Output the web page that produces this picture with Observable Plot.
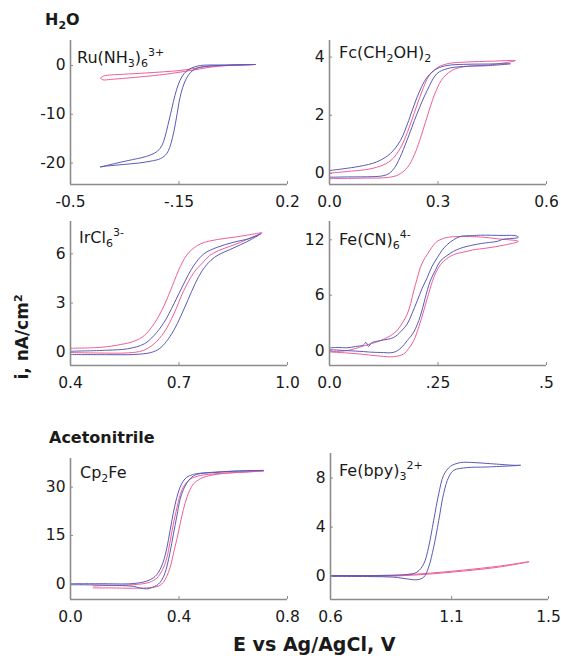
<!DOCTYPE html>
<html><head><meta charset="utf-8">
<script src="https://cdn.jsdelivr.net/npm/d3@7"></script>
<script src="https://cdn.jsdelivr.net/npm/@observablehq/plot@0.6"></script>
<style>
body{margin:0;background:#fff;}
#wrap{position:relative;width:561px;height:656px;overflow:hidden;font-family:"DejaVu Sans",sans-serif;color:#1a1a1a;background:#fff;}
.lbl{position:absolute;font-size:16px;line-height:16px;white-space:nowrap;}
.b{font-weight:bold;}
.sub{font-size:11px;vertical-align:-4px;}
.sup{font-size:11px;vertical-align:7px;}
.pl{position:absolute;}
</style></head>
<body><div id="wrap"></div>
<script>
// ---------- data: [E (V vs Ag/AgCl), i (nA/cm2)] ----------
// Ru(NH3)6 3+
const ruBlueFwd = [[-0.403,-20.8],[-0.35,-20.0],[-0.30,-19.3],[-0.27,-18.9],[-0.24,-18.3],[-0.22,-17.6],[-0.205,-16.4],[-0.195,-14.6],[-0.186,-12.3],[-0.177,-9.9],[-0.168,-7.4],[-0.158,-5.0],[-0.147,-3.1],[-0.134,-1.7],[-0.118,-0.8],[-0.10,-0.3],[-0.08,0.0],[-0.04,0.1],[0.0,0.1],[0.05,0.15],[0.097,0.2]];
const ruBlueRev = [[0.097,0.2],[0.05,0.1],[0.0,0.0],[-0.05,-0.1],[-0.085,-0.4],[-0.105,-1.0],[-0.12,-2.0],[-0.133,-3.6],[-0.143,-5.6],[-0.150,-7.6],[-0.156,-9.9],[-0.163,-12.4],[-0.171,-14.8],[-0.18,-16.8],[-0.19,-18.1],[-0.21,-19.1],[-0.24,-19.6],[-0.28,-20.0],[-0.33,-20.3],[-0.38,-20.6],[-0.403,-20.8]];
const ruPinkFwd = [[-0.403,-2.6],[-0.395,-2.2],[-0.38,-2.0],[-0.33,-1.8],[-0.26,-1.55],[-0.20,-1.3],[-0.15,-1.05],[-0.11,-0.7],[-0.07,-0.3],[-0.04,-0.1],[0.0,0.05],[0.05,0.12],[0.097,0.2]];
const ruPinkRev = [[0.097,0.2],[0.04,0.08],[0.0,-0.05],[-0.05,-0.35],[-0.10,-0.9],[-0.15,-1.4],[-0.20,-1.85],[-0.26,-2.25],[-0.32,-2.6],[-0.37,-2.85],[-0.395,-2.95],[-0.403,-2.6]];
// Fc(CH2OH)2
const fcBlueFwd = [[0.0,0.10],[0.05,0.18],[0.094,0.27],[0.12,0.35],[0.14,0.45],[0.168,0.68],[0.196,1.13],[0.219,1.82],[0.242,2.62],[0.27,3.31],[0.297,3.60],[0.325,3.71],[0.371,3.75],[0.43,3.76],[0.50,3.77]];
const fcBlueRev = [[0.50,3.73],[0.43,3.70],[0.371,3.68],[0.325,3.60],[0.297,3.43],[0.27,2.85],[0.242,2.05],[0.214,1.13],[0.195,0.55],[0.18,0.2],[0.165,0.0],[0.148,-0.08],[0.12,-0.11],[0.05,-0.12],[0.0,-0.13]];
const fcPinkFwd = [[0.0,0.01],[0.06,0.08],[0.10,0.13],[0.14,0.25],[0.17,0.45],[0.195,0.85],[0.215,1.4],[0.235,2.1],[0.255,2.8],[0.275,3.35],[0.30,3.65],[0.33,3.78],[0.38,3.83],[0.45,3.86],[0.514,3.88]];
const fcPinkRev = [[0.514,3.86],[0.45,3.74],[0.38,3.68],[0.345,3.58],[0.315,3.3],[0.295,2.85],[0.275,2.15],[0.255,1.35],[0.235,0.65],[0.215,0.2],[0.19,-0.05],[0.16,-0.14],[0.10,-0.16],[0.05,-0.17],[0.0,-0.18]];
// IrCl6 3-
const irBlueFwd = [[0.40,0.06],[0.50,0.12],[0.558,0.21],[0.604,0.51],[0.631,1.02],[0.659,1.83],[0.686,2.95],[0.713,4.17],[0.741,5.29],[0.769,6.0],[0.806,6.40],[0.852,6.71],[0.898,6.95],[0.926,7.22]];
const irBlueRev = [[0.926,7.22],[0.90,6.88],[0.87,6.55],[0.84,6.25],[0.81,5.95],[0.788,5.6],[0.765,5.0],[0.745,4.2],[0.725,3.2],[0.705,2.2],[0.686,1.35],[0.665,0.65],[0.645,0.2],[0.622,-0.02],[0.576,-0.14],[0.50,-0.15],[0.40,-0.14]];
const irPinkFwd = [[0.40,0.24],[0.484,0.30],[0.539,0.47],[0.576,0.67],[0.604,1.02],[0.631,1.73],[0.659,2.85],[0.682,4.07],[0.705,5.29],[0.728,6.10],[0.76,6.61],[0.806,6.87],[0.852,7.01],[0.889,7.14],[0.93,7.28]];
const irPinkRev = [[0.93,7.28],[0.90,7.0],[0.87,6.7],[0.84,6.45],[0.81,6.2],[0.785,5.9],[0.765,5.45],[0.741,4.85],[0.713,3.75],[0.686,2.34],[0.659,1.22],[0.631,0.51],[0.60,0.1],[0.56,-0.04],[0.48,-0.05],[0.40,-0.02]];
// Fe(CN)6 4-
const fcnBlueFwd = [[0.002,0.3],[0.02,0.35],[0.04,0.3],[0.06,0.45],[0.078,0.6],[0.084,0.9],[0.09,0.45],[0.097,0.85],[0.117,1.08],[0.148,1.43],[0.165,2.1],[0.179,2.87],[0.19,4.0],[0.202,5.38],[0.213,6.7],[0.225,7.89],[0.236,9.1],[0.248,10.04],[0.26,10.9],[0.271,11.47],[0.286,12.0],[0.302,12.37],[0.33,12.45],[0.348,12.5],[0.40,12.47],[0.425,12.47],[0.432,12.4],[0.435,12.26]];
const fcnBlueRev = [[0.435,12.2],[0.40,12.05],[0.386,11.83],[0.35,11.6],[0.317,11.29],[0.30,11.05],[0.286,10.75],[0.271,10.3],[0.255,9.68],[0.245,8.8],[0.232,7.53],[0.22,5.6],[0.209,3.7],[0.194,2.0],[0.179,1.08],[0.165,0.3],[0.148,-0.18],[0.117,-0.2],[0.09,-0.15],[0.078,-0.1],[0.04,0.0],[0.002,0.1]];
const fcnPinkFwd = [[0.002,-0.1],[0.04,0.0],[0.078,0.5],[0.117,1.08],[0.14,1.6],[0.155,2.15],[0.168,3.0],[0.179,3.94],[0.187,5.1],[0.194,6.45],[0.202,7.8],[0.209,8.96],[0.217,9.8],[0.225,10.39],[0.236,11.2],[0.248,11.83],[0.26,12.1],[0.271,12.26],[0.30,12.35],[0.35,12.3],[0.386,12.11],[0.435,11.83]];
const fcnPinkRev = [[0.435,11.65],[0.40,11.4],[0.363,11.11],[0.33,10.9],[0.317,10.75],[0.286,10.39],[0.263,9.68],[0.25,8.9],[0.24,7.89],[0.228,6.1],[0.217,4.3],[0.206,2.6],[0.194,1.08],[0.182,0.2],[0.171,-0.36],[0.148,-0.65],[0.117,-0.6],[0.078,-0.4],[0.04,-0.25],[0.002,-0.15]];
// Cp2Fe (acetonitrile)
const cpBlueFwd = [[0.0,0.0],[0.108,0.0],[0.231,0.05],[0.281,0.8],[0.305,1.8],[0.318,2.8],[0.33,4.4],[0.342,6.8],[0.355,11.0],[0.367,16.5],[0.379,22.0],[0.392,26.8],[0.404,30.0],[0.416,31.9],[0.429,33.1],[0.45,33.9],[0.466,34.2],[0.54,34.7],[0.601,34.9],[0.712,35.2]];
const cpBlueRev = [[0.712,35.2],[0.601,35.0],[0.54,34.6],[0.478,34.2],[0.453,33.5],[0.441,32.6],[0.429,31.3],[0.416,29.2],[0.404,26.2],[0.392,21.0],[0.379,15.2],[0.367,9.8],[0.355,5.2],[0.342,2.0],[0.33,0.4],[0.318,-0.5],[0.30,-1.2],[0.281,-1.6],[0.255,-1.3],[0.231,-0.8],[0.15,-0.5],[0.108,-0.4],[0.0,-0.3]];
const cpPinkFwd = [[0.084,-0.7],[0.15,-0.5],[0.231,-0.3],[0.29,0.4],[0.318,1.7],[0.33,3.0],[0.342,4.8],[0.355,8.0],[0.367,13.0],[0.379,18.5],[0.392,23.5],[0.404,27.5],[0.416,30.0],[0.44,32.4],[0.478,33.6],[0.54,34.2],[0.65,34.7],[0.712,35.0]];
const cpPinkRev = [[0.712,35.0],[0.60,34.5],[0.54,34.0],[0.50,33.3],[0.478,32.6],[0.453,31.0],[0.441,29.3],[0.429,26.8],[0.416,23.0],[0.404,18.5],[0.392,13.8],[0.379,9.2],[0.367,5.0],[0.355,2.3],[0.342,0.4],[0.33,-0.5],[0.318,-0.9],[0.281,-1.3],[0.231,-1.4],[0.15,-1.3],[0.084,-1.3]];
// Fe(bpy)3 2+ (acetonitrile)
const bpyBlueFwd = [[0.601,0.06],[0.805,0.06],[0.916,0.14],[0.957,0.33],[0.985,1.01],[1.005,2.37],[1.026,4.55],[1.047,6.73],[1.067,8.22],[1.095,8.95],[1.137,9.26],[1.192,9.26],[1.261,9.17],[1.358,9.04],[1.385,9.04]];
const bpyBlueRev = [[1.385,9.04],[1.247,8.90],[1.164,8.85],[1.109,8.63],[1.088,8.08],[1.067,6.73],[1.047,4.55],[1.026,2.37],[1.005,0.73],[0.985,-0.08],[0.957,-0.29],[0.916,-0.22],[0.860,-0.08],[0.601,-0.02]];
const bpyPinkFwd = [[0.601,0.06],[0.736,0.05],[0.874,0.08],[1.012,0.25],[1.150,0.5],[1.289,0.8],[1.420,1.18]];
const bpyPinkRev = [[1.420,1.12],[1.289,0.72],[1.150,0.42],[1.012,0.18],[0.874,0.02],[0.736,0.0],[0.601,0.02]];

// tick values and labels
const ruXTicks = [-0.5,-0.15,0.2], ruXLabels = ["-0.5","-.15","0.2"], ruYTicks = [-20,-10,0], ruYLabels = ["-20","-10","0"];
const fcXTicks = [0,0.3,0.6], fcXLabels = ["0.0","0.3","0.6"], fcYTicks = [0,2,4], fcYLabels = ["0","2","4"];
const irXTicks = [0.4,0.7,1.0], irXLabels = ["0.4","0.7","1.0"], irYTicks = [0,3,6], irYLabels = ["0","3","6"];
const fcnXTicks = [0,0.25,0.5], fcnXLabels = ["0.0",".25",".5"], fcnYTicks = [0,6,12], fcnYLabels = ["0","6","12"];
const cpXTicks = [0,0.4,0.8], cpXLabels = ["0.0","0.4","0.8"], cpYTicks = [0,15,30], cpYLabels = ["0","15","30"];
const bpyXTicks = [0.6,1.1,1.5], bpyXLabels = ["0.6","1.1","1.5"], bpyYTicks = [0,4,8], bpyYLabels = ["0","4","8"];

const BLUE = "#5a5ab8", PINK = "#ee5f98", AXIS = "#8c8c8c", INK = "#1a1a1a";

const panels = [
  {x:[-0.5,0.2], y:[-24.4,5.12], xt:ruXTicks, xl:ruXLabels, yt:ruYTicks, yl:ruYLabels, curves:[[ruPinkFwd,ruPinkRev,PINK],[ruBlueFwd,ruBlueRev,BLUE]], left:70, top:40, w:217, h:144},
  {x:[0,0.6], y:[-0.38,4.57], xt:fcXTicks, xl:fcXLabels, yt:fcYTicks, yl:fcYLabels, curves:[[fcPinkFwd,fcPinkRev,PINK],[fcBlueFwd,fcBlueRev,BLUE]], left:329, top:40, w:217, h:144},
  {x:[0.4,1.0], y:[-0.81,7.97], xt:irXTicks, xl:irXLabels, yt:irYTicks, yl:irYLabels, curves:[[irPinkFwd,irPinkRev,PINK],[irBlueFwd,irBlueRev,BLUE]], left:70, top:221, w:217, h:144},
  {x:[0,0.5], y:[-1.61,13.98], xt:fcnXTicks, xl:fcnXLabels, yt:fcnYTicks, yl:fcnYLabels, curves:[[fcnPinkFwd,fcnPinkRev,PINK],[fcnBlueFwd,fcnBlueRev,BLUE]], left:329, top:221, w:217, h:144},
  {x:[0,0.8], y:[-4.9,38.9], xt:cpXTicks, xl:cpXLabels, yt:cpYTicks, yl:cpYLabels, curves:[[cpPinkFwd,cpPinkRev,PINK],[cpBlueFwd,cpBlueRev,BLUE]], left:70, top:458, w:217, h:141},
  {x:[0.6,1.5], y:[-1.9,10.0], xt:bpyXTicks, xl:bpyXLabels, yt:bpyYTicks, yl:bpyYLabels, curves:[[bpyPinkFwd,bpyPinkRev,PINK],[bpyBlueFwd,bpyBlueRev,BLUE]], left:330, top:453, w:218, h:146}
];

const wrap = document.getElementById("wrap");
const mL = 45, mR = 15, mT = 4, mB = 32;

for (const p of panels) {
  const lines = p.curves.map(([f, r, c]) =>
    Plot.line(f.concat(r.slice(1)), {x: d => d[0], y: d => d[1], stroke: c, strokeWidth: 1, curve: "catmull-rom"}));
  const svg = Plot.plot({
    width: p.w + mL + mR, height: p.h + mT + mB,
    marginLeft: mL, marginRight: mR, marginTop: mT, marginBottom: mB,
    x: {domain: p.x}, y: {domain: p.y},
    style: {background: "transparent", overflow: "visible", fontFamily: "DejaVu Sans, sans-serif", fontSize: "15.5px", color: INK},
    marks: [
      ...lines,
      Plot.ruleX([p.x[0]], {stroke: AXIS, strokeWidth: 1.6}),
      Plot.ruleY([p.y[0]], {stroke: AXIS, strokeWidth: 1.6}),
      Plot.axisX({ticks: p.xt, tickFormat: d => p.xl[p.xt.indexOf(d)], tickSize: -3, tickPadding: 14, stroke: AXIS, fill: INK, fontSize: 15.5, label: null}),
      Plot.axisY({ticks: p.yt, tickFormat: d => p.yl[p.yt.indexOf(d)], tickSize: -3, tickPadding: 8, stroke: AXIS, fill: INK, fontSize: 15.5, label: null})
    ]
  });
  svg.classList.add("pl");
  svg.style.left = (p.left - mL) + "px";
  svg.style.top = (p.top - mT) + "px";
  wrap.appendChild(svg);
}

// text labels
const labels = [
  {html: 'H<span class="sub">2</span>O', cls: "b", left: 45, top: 12},
  {html: 'Ru(NH<span class="sub">3</span>)<span class="sub">6</span><span class="sup">3+</span>', left: 77, top: 45},
  {html: 'Fc(CH<span class="sub">2</span>OH)<span class="sub">2</span>', left: 339, top: 45},
  {html: 'IrCl<span class="sub">6</span><span class="sup">3-</span>', left: 79, top: 225},
  {html: 'Fe(CN)<span class="sub">6</span><span class="sup">4-</span>', left: 339, top: 227},
  {html: 'Acetonitrile', cls: "b", left: 49, top: 430},
  {html: 'Cp<span class="sub">2</span>Fe', left: 80, top: 465},
  {html: 'Fe(bpy)<span class="sub">3</span><span class="sup">2+</span>', left: 339, top: 458}
];
for (const l of labels) {
  const d = document.createElement("div");
  d.className = "lbl " + (l.cls || "");
  d.innerHTML = l.html;
  d.style.left = l.left + "px";
  d.style.top = l.top + "px";
  wrap.appendChild(d);
}
const xt = document.createElement("div");
xt.className = "lbl b";
xt.style.cssText = "left:233px;top:635px;font-size:19px;line-height:19px;";
xt.textContent = "E vs Ag/AgCl, V";
wrap.appendChild(xt);
const yt = document.createElement("div");
yt.className = "lbl b";
yt.style.cssText = "left:20px;top:337px;font-size:17px;line-height:17px;transform:translate(-50%,-50%) rotate(-90deg);";
yt.innerHTML = 'i, nA/cm<span class="sup" style="vertical-align:6px">2</span>';
wrap.appendChild(yt);
</script>
</body></html>
